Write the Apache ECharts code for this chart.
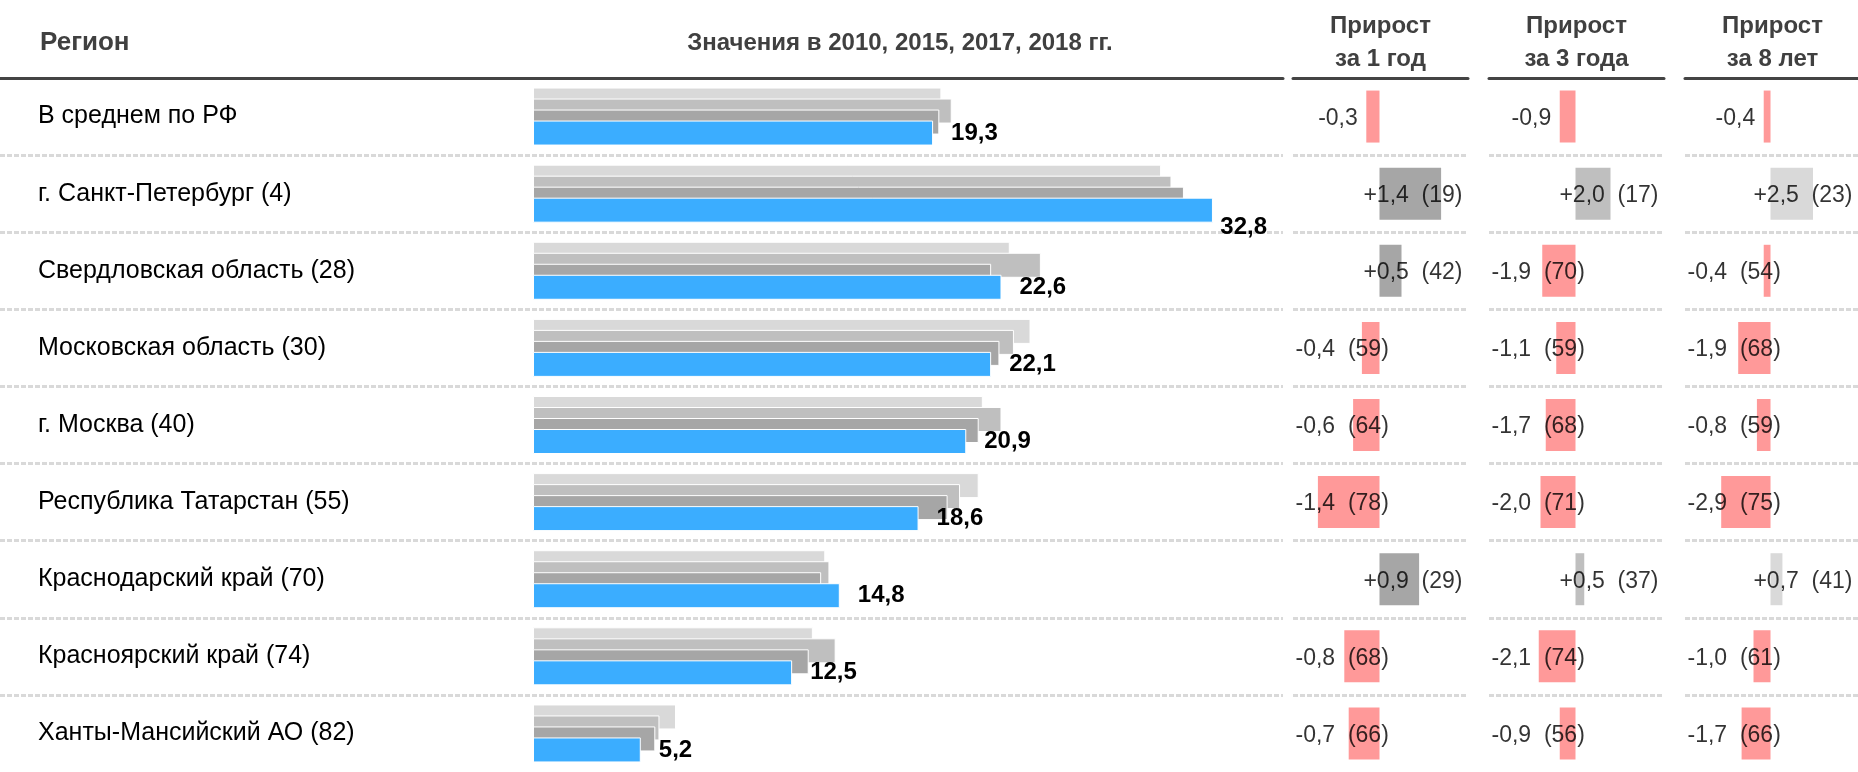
<!DOCTYPE html>
<html><head><meta charset="utf-8">
<script src="https://cdn.jsdelivr.net/npm/echarts@6/dist/echarts.min.js"></script>
<style>html,body{margin:0;padding:0;background:#fff}#c{width:1858px;height:772px}</style>
</head><body><div id="c"></div>
<script>
// ---------- DATA ----------
const regions = [
  'В среднем по РФ',
  'г. Санкт-Петербург (4)',
  'Свердловская область (28)',
  'Московская область (30)',
  'г. Москва (40)',
  'Республика Татарстан (55)',
  'Краснодарский край (70)',
  'Красноярский край (74)',
  'Ханты-Мансийский АО (82)'
];
const years = ['2010', '2015', '2017', '2018'];
const v2010 = [19.7, 30.3, 23.0, 24.0, 21.7, 21.5, 14.1, 13.5, 6.9];
const v2015 = [20.2, 30.8, 24.5, 23.2, 22.6, 20.6, 14.3, 14.6, 6.1];
const v2017 = [19.6, 31.4, 22.1, 22.5, 21.5, 20.0, 13.9, 13.3, 5.9];
const v2018 = [19.3, 32.8, 22.6, 22.1, 20.9, 18.6, 14.8, 12.5, 5.2];

const growth1 = [-0.3, 1.4, 0.5, -0.4, -0.6, -1.4, 0.9, -0.8, -0.7];
const rank1   = [null, 19, 42, 59, 64, 78, 29, 68, 66];
const growth3 = [-0.9, 2.0, -1.9, -1.1, -1.7, -2.0, 0.5, -2.1, -0.9];
const rank3   = [null, 17, 70, 59, 68, 71, 37, 74, 56];
const growth8 = [-0.4, 2.5, -0.4, -1.9, -0.8, -2.9, 0.7, -1.0, -1.7];
const rank8   = [null, 23, 54, 68, 59, 75, 41, 61, 66];

const headerRegion = 'Регион';
const headerValues = 'Значения в 2010, 2015, 2017, 2018 гг.';
const growthHeaders = ['Прирост\nза 1 год', 'Прирост\nза 3 года', 'Прирост\nза 8 лет'];

// ---------- LAYOUT / STYLE ----------
const FONT = "'Liberation Sans', Arial, sans-serif";
const TOP = 78, HEIGHT = 696;
const MAIN_W = 1283, BAR_ZERO = 533, PX = 20.73;
const COL_LEFT = [1293, 1489, 1685], COL_W = 175, COL_ZERO = 86.5, COL_PX = [44, 17.5, 17.2];
const barColors = ['#d9d9d9', '#bfbfbf', '#a6a6a6', '#3badff'];
const posColors = ['#a6a6a6', '#bfbfbf', '#d9d9d9'];
const NEG = '#ff9999';
const HEAD = '#404040';

const fmt = v => v.toFixed(1).replace('.', ',');
const fmtSigned = v => (v > 0 ? '+' : '') + fmt(v);

const splitLine = {show: true, showMinLine: false, showMaxLine: false, lineStyle: {color: '#d9d9d9', width: 3, type: [5, 2]}};
const topLine = {show: true, onZero: false, lineStyle: {color: '#444', width: 3}};

const grid = [{left: 0, top: TOP, width: MAIN_W, height: HEIGHT}];
const xAxis = [{
  gridIndex: 0, type: 'value', position: 'top',
  min: -BAR_ZERO / PX, max: (MAIN_W - BAR_ZERO) / PX,
  axisLine: topLine, axisTick: {show: false}, axisLabel: {show: false}, splitLine: {show: false}
}];
const yAxis = [{
  gridIndex: 0, type: 'category', data: regions, inverse: true,
  axisLine: {show: false, onZero: false}, axisTick: {show: false},
  axisLabel: {inside: true, margin: 38, interval: 0, fontSize: 25, color: '#000', fontFamily: FONT},
  splitLine: splitLine
}];
const series = [];
const values = [v2010, v2015, v2017, v2018];
years.forEach((y, i) => {
  const s = {
    type: 'bar', name: y, xAxisIndex: 0, yAxisIndex: 0, data: values[i],
    barWidth: 25, barGap: '-56%', silent: true,
    itemStyle: {color: barColors[i], borderColor: '#fff', borderWidth: 1}
  };
  if (i === 3) {
    s.label = {
      show: true, position: 'right', distance: 18, offset: [0, 5],
      formatter: p => fmt(p.value),
      fontSize: 24, fontWeight: 'bold', color: '#000', fontFamily: FONT
    };
    s.labelLayout = function (params) {
      const r = params.labelRect;
      const lim = MAIN_W - 16;
      if (r.x + r.width > lim) return {x: lim - r.width};
      return {};
    };
  }
  series.push(s);
});

const growths = [growth1, growth3, growth8];
const ranks = [rank1, rank3, rank8];
const graphics = [
  {type: 'text', x: 40, y: 43, style: {text: headerRegion, fontSize: 26, fontWeight: 'bold', fontFamily: FONT, fill: HEAD, textAlign: 'left', align: 'left', textVerticalAlign: 'middle', verticalAlign: 'middle'}},
  {type: 'text', x: 900, y: 43, style: {text: headerValues, fontSize: 24, fontWeight: 'bold', fontFamily: FONT, fill: HEAD, textAlign: 'center', align: 'center', textVerticalAlign: 'middle', verticalAlign: 'middle'}}
];

for (let c = 0; c < 3; c++) {
  const gi = c + 1;
  const min = -COL_ZERO / COL_PX[c], max = (COL_W - COL_ZERO) / COL_PX[c];
  grid.push({left: COL_LEFT[c], top: TOP, width: COL_W, height: HEIGHT});
  xAxis.push({
    gridIndex: gi, type: 'value', position: 'top', min: min, max: max,
    axisLine: topLine, axisTick: {show: false}, axisLabel: {show: false}, splitLine: {show: false}
  });
  yAxis.push({
    gridIndex: gi, type: 'category', data: regions, inverse: true,
    axisLine: {show: false, onZero: false}, axisTick: {show: false}, axisLabel: {show: false},
    splitLine: splitLine
  });
  series.push({
    type: 'bar', xAxisIndex: gi, yAxisIndex: gi, barWidth: 52, silent: true,
    data: growths[c].map(v => ({value: v, itemStyle: {color: v < 0 ? NEG : posColors[c]}}))
  });
  series.push({
    type: 'scatter', xAxisIndex: gi, yAxisIndex: gi, symbolSize: 1, silent: true,
    itemStyle: {color: 'rgba(0,0,0,0)'}, z: 5,
    data: growths[c].map((g, i) => {
      const r = ranks[c][i];
      const base = {fontSize: 23, color: '#000', fontFamily: FONT, show: true, offset: [0, 2]};
      if (r == null) {
        return {value: [g, i], label: Object.assign(base, {position: 'left', distance: 8, formatter: fmtSigned(g)})};
      } else if (g < 0) {
        return {value: [min, i], label: Object.assign(base, {position: 'right', distance: 2, formatter: fmtSigned(g) + '  (' + r + ')'})};
      } else {
        return {value: [max, i], label: Object.assign(base, {position: 'left', distance: 5, formatter: fmtSigned(g) + '  (' + r + ')'})};
      }
    })
  });
  graphics.push({
    type: 'text', x: COL_LEFT[c] + COL_W / 2, y: 42.5,
    style: {text: growthHeaders[c], fontSize: 24, fontWeight: 'bold', fontFamily: FONT, fill: HEAD, lineHeight: 33,
      textAlign: 'center', align: 'center', textVerticalAlign: 'middle', verticalAlign: 'middle'}
  });
}

const chart = echarts.init(document.getElementById('c'), null, {renderer: 'canvas'});
chart.setOption({
  animation: false,
  backgroundColor: '#fff',
  textStyle: {fontFamily: FONT},
  grid: grid, xAxis: xAxis, yAxis: yAxis, series: series,
  graphic: graphics
});
</script>
</body></html>
